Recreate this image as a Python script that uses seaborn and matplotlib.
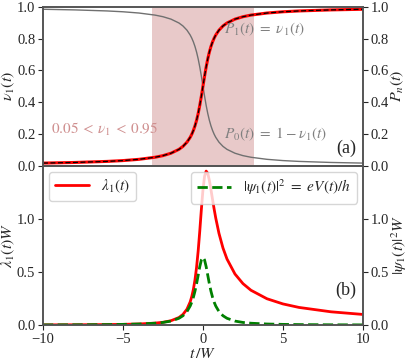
import matplotlib
matplotlib.use("Agg")
import matplotlib.pyplot as plt
import seaborn as sb
import pandas as pd

# time axis in units of W (denser around the pulse)
t = [-10, -8, -6, -5, -4, -3, -2.5, -2, -1.5, -1.25, -1, -0.8, -0.7, -0.6, -0.5,
     -0.4, -0.3, -0.2, -0.1, 0, 0.1, 0.2, 0.3, 0.4, 0.5, 0.6, 0.7, 0.8, 1,
     1.25, 1.5, 2, 2.5, 3, 4, 5, 6, 8, 10]

# occupation nu_1(t) = P_1(t)
nu1 = [0.0159, 0.0199, 0.0265, 0.0317, 0.0396, 0.0526, 0.0628, 0.0780, 0.1024,
       0.1211, 0.1476, 0.1778, 0.1974, 0.2211, 0.2500, 0.2852, 0.3280, 0.3789,
       0.4372, 0.5000, 0.5628, 0.6211, 0.6720, 0.7148, 0.7500, 0.7789, 0.8026,
       0.8222, 0.8524, 0.8789, 0.8976, 0.9220, 0.9372, 0.9474, 0.9604, 0.9683,
       0.9735, 0.9801, 0.9841]

# |psi_1(t)|^2 W
psi2 = [0.0016, 0.0025, 0.0044, 0.0063, 0.0098, 0.0172, 0.0245, 0.0374, 0.0637,
        0.0878, 0.1273, 0.1788, 0.2151, 0.2609, 0.3183, 0.3882, 0.4681, 0.5488,
        0.6121, 0.6366, 0.6121, 0.5488, 0.4681, 0.3882, 0.3183, 0.2609, 0.2151,
        0.1788, 0.1273, 0.0878, 0.0637, 0.0374, 0.0245, 0.0172, 0.0098, 0.0063,
        0.0044, 0.0025, 0.0016]

# lambda_1(t) W
lam1 = [0.0016, 0.0025, 0.0045, 0.0065, 0.0102, 0.0182, 0.0261, 0.0406, 0.0709,
        0.0999, 0.1494, 0.2175, 0.2680, 0.3350, 0.4244, 0.5431, 0.6966, 0.8836,
        1.0876, 1.2732, 1.4002, 1.4485, 1.4272, 1.3610, 1.2732, 1.1798, 1.0894,
        1.0057, 0.8627, 0.7250, 0.6216, 0.4802, 0.3897, 0.3273, 0.2474, 0.1987,
        0.1658, 0.1246, 0.0998]

# window where 0.05 < nu_1 < 0.95
shade_lo, shade_hi = -3.16, 3.16

df = pd.DataFrame({'t': t, 'nu1': nu1, 'p0': [1 - v for v in nu1],
                   'psi2': psi2, 'lam1': lam1})

sb.set_style('ticks')
plt.rcParams['font.family'] = ['Liberation Serif', 'DejaVu Serif']
plt.rcParams['mathtext.fontset'] = 'stix'
plt.rcParams['axes.edgecolor'] = '#555555'
plt.rcParams['axes.linewidth'] = 1.2
plt.rcParams['xtick.major.size'] = 3.5
plt.rcParams['ytick.major.size'] = 3.5
plt.rcParams['xtick.major.pad'] = 2
plt.rcParams['ytick.major.pad'] = 2

fig = plt.figure(figsize=(4.09, 3.64), dpi=100)
ax1 = fig.add_axes([0.105, 0.545, 0.7825, 0.4365])
ax2 = fig.add_axes([0.105, 0.107, 0.7825, 0.438], sharex=ax1)

# ---- panel (a)
ax1.axvspan(shade_lo, shade_hi, color='#a52a2a', alpha=0.25, lw=0)
sb.lineplot(data=df, x='t', y='p0', ax=ax1, color='#707070', lw=1.0)
sb.lineplot(data=df, x='t', y='nu1', ax=ax1, color='red', lw=2.2)
sb.lineplot(data=df, x='t', y='nu1', ax=ax1, color='black', lw=0.9,
            linestyle=(0, (4, 2)))
ax1.set_xlim(-10, 10)
ax1.set_ylim(0, 1)
ax1.set_yticks([0, 0.2, 0.4, 0.6, 0.8, 1.0])
ax1.tick_params(axis='x', bottom=False, labelbottom=False)
ax1.tick_params(axis='y', labelsize=10.5)
ax1.set_xlabel('')
ax1.set_ylabel(r'$\nu_1(t)$', fontsize=11.5, labelpad=0)

ax1.text(-9.5, 0.2, r'$0.05\:<\:\nu_1\:<\:0.95$', color='#cf8f8f', fontsize=11)
ax1.text(1.3, 0.83, r'$P_1(t)\ =\ \nu_1(t)$', color='gray', fontsize=11)
ax1.text(1.3, 0.17, r'$P_0(t)\ =\ 1 - \nu_1(t)$', color='gray', fontsize=11)
ax1.text(9.6, 0.08, '(a)', fontsize=13, ha='right')

ax1r = ax1.twinx()
ax1r.set_ylim(0, 1)
ax1r.set_yticks([0, 0.2, 0.4, 0.6, 0.8, 1.0])
ax1r.tick_params(axis='y', labelsize=10.5)
ax1r.set_ylabel(r'$P_n(t)$', fontsize=11.5, labelpad=0)

# ---- panel (b)
sb.lineplot(data=df, x='t', y='lam1', ax=ax2, color='red', lw=2.0,
            label=r'$\lambda_1(t)$')
ax2.set_xlim(-10, 10)
ax2.set_ylim(0, 1.5)
ax2.set_yticks([0, 0.5, 1.0])
ax2.set_xticks([-10, -5, 0, 5, 10])
ax2.tick_params(labelsize=10.5)
ax2.set_xlabel(r'$t\,/W$', fontsize=11.5, labelpad=0)
ax2.set_ylabel(r'$\lambda_1(t)W$', fontsize=11.5, labelpad=0)
ax2.legend(loc='upper left', fontsize=11, handlelength=2.2, borderaxespad=0.4)

ax2r = ax2.twinx()
sb.lineplot(data=df, x='t', y='psi2', ax=ax2r, color='green', lw=2.0,
            linestyle='--', label=r'$|\psi_1(t)|^2\ =\ eV(t)/h$')
ax2r.set_ylim(0, 1.5)
ax2r.set_yticks([0, 0.5, 1.0])
ax2r.tick_params(labelsize=10.5)
ax2r.set_ylabel(r'$|\psi_1(t)|^2W$', fontsize=11.5, labelpad=0)
ax2r.legend(loc='upper right', fontsize=11, handlelength=2.2, borderaxespad=0.4)
ax2r.text(9.6, 0.28, '(b)', fontsize=13, ha='right')

fig.savefig('out.png', dpi=100)
